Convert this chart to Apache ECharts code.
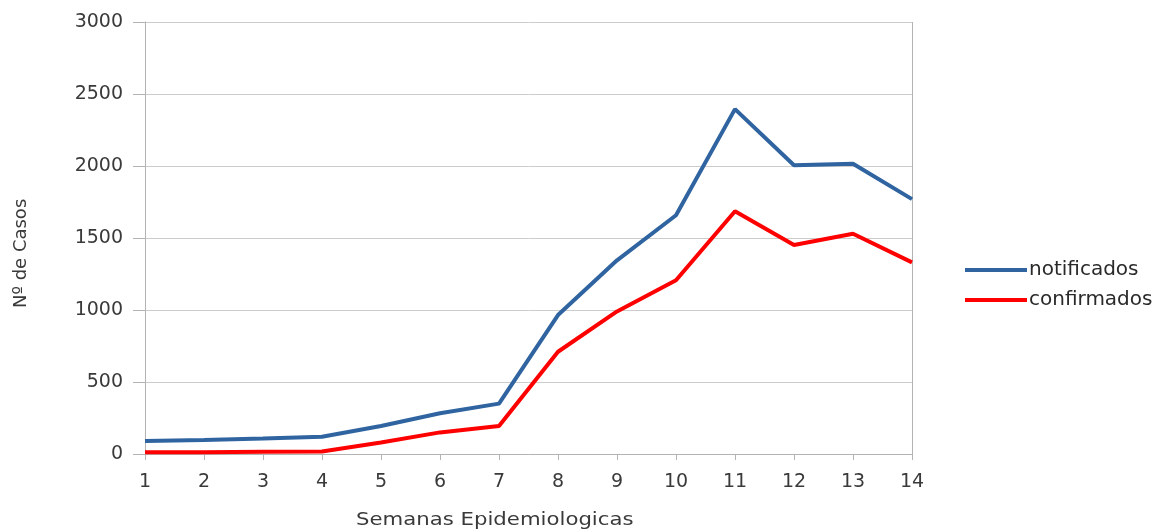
<!DOCTYPE html>
<html>
<head>
<meta charset="utf-8">
<script src="https://cdn.jsdelivr.net/npm/echarts@6/dist/echarts.min.js"></script>
<style>
  html, body { margin: 0; padding: 0; background: #fff; }
  #chart { width: 1174px; height: 532px; }
</style>
</head>
<body>
<div id="chart"></div>
<script>
// semanas epidemiologicas
var semanas = ['1', '2', '3', '4', '5', '6', '7', '8', '9', '10', '11', '12', '13', '14'];
// casos notificados
var notificados = [90, 97, 108, 120, 195, 283, 350, 965, 1345, 1658, 2395, 2005, 2015, 1770];
// casos confirmados
var confirmados = [12, 12, 15, 18, 80, 150, 195, 710, 990, 1207, 1686, 1452, 1530, 1331];

var labelFont = { color: '#3a3a3a', fontSize: 19, fontFamily: 'DejaVu Sans' };

var node = document.getElementById('chart');
var chart = echarts.init(node, null, { renderer: 'canvas' });
var option = {
  backgroundColor: '#fff',
  animation: false,
  grid: { left: 145, right: 262, top: 22, bottom: 78 },
  legend: {
    orient: 'vertical',
    left: 960,
    top: 255,
    itemWidth: 62,
    itemHeight: 4,
    itemGap: 10,
    icon: 'rect',
    textStyle: { color: '#2a2a2a', fontSize: 20, fontFamily: 'DejaVu Sans', padding: [0, 0, 0, -3] },
    data: ['notificados', 'confirmados']
  },
  graphic: [
    {
      type: 'text', x: 356, y: 511, scaleX: 1.18,
      style: { text: 'Semanas Epidemiologicas', fill: '#3a3a3a', font: '18px DejaVu Sans' }
    },
    {
      type: 'text', x: 12, y: 308, rotation: Math.PI / 2,
      style: { text: 'Nº de Casos', fill: '#3a3a3a', font: '18px DejaVu Sans', textVerticalAlign: 'top' }
    }
  ],
  xAxis: {
    type: 'category',
    data: semanas,
    boundaryGap: false,
    axisLine: { lineStyle: { color: '#b3b3b3', width: 1 } },
    axisTick: { show: true, length: 6, lineStyle: { color: '#b3b3b3' } },
    axisLabel: Object.assign({ margin: 19 }, labelFont),
    splitLine: {
      show: true,
      interval: function (index) { return index === semanas.length - 1; },
      lineStyle: { color: '#b3b3b3', width: 1 }
    }
  },
  yAxis: {
    type: 'value',
    min: 0,
    max: 3000,
    interval: 500,
    axisLine: { show: true, lineStyle: { color: '#b3b3b3', width: 1 } },
    axisTick: { show: true, length: 12, lineStyle: { color: '#b3b3b3' } },
    axisLabel: Object.assign({
      margin: 22,
      formatter: function (v) { return String(v); }
    }, labelFont),
    splitLine: { show: true, lineStyle: { color: '#cccccc', width: 1 } }
  },
  series: [
    {
      name: 'notificados',
      type: 'line',
      data: notificados,
      symbol: 'none',
      itemStyle: { color: '#2f64a0' },
      lineStyle: { color: '#2f64a0', width: 4 }
    },
    {
      name: 'confirmados',
      type: 'line',
      data: confirmados,
      symbol: 'none',
      itemStyle: { color: '#ff0000' },
      lineStyle: { color: '#ff0000', width: 4 }
    }
  ]
};
chart.setOption(option);
</script>
</body>
</html>
